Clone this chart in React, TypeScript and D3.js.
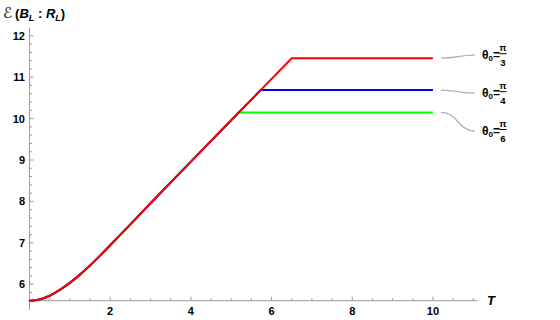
import React from 'react';
import * as d3 from 'd3';

// rising part of the curve
const riseT = [0, 0.25, 0.5, 0.75, 1, 1.25, 1.5, 1.75, 2, 2.5, 3, 4, 5, 6];
const riseE = [5.6, 5.63, 5.72, 5.86, 6.03, 6.23, 6.45, 6.69, 6.94, 7.445, 7.955, 8.96, 9.96, 10.96];

// one entry per theta0 curve
const denominators = ['3', '4', '6'];
const plateauStart = [6.5, 5.73, 5.19];
const plateauValue = [11.46, 10.69, 10.15];
const plateauEnd = 10;
const colors = ['#ff0000', '#0000ff', '#00ff00'];

const xTicks = [2, 4, 6, 8, 10];
const yTicks = [6, 7, 8, 9, 10, 11, 12];

const W = 560;
const H = 320;

const App = () => {
  const x = d3.scaleLinear().domain([0, 11.1]).range([29.5, 477.3]);
  const y = d3.scaleLinear().domain([5.6, 12.19]).range([300.7, 28]);

  const smooth = d3.line<[number, number]>()
    .x(d => x(d[0]))
    .y(d => y(d[1]))
    .curve(d3.curveMonotoneX);

  const seriesPath = (i: number) => {
    const curved: [number, number][] = [];
    const straight: [number, number][] = [];
    riseT.forEach((t, j) => {
      if (t <= 3) curved.push([t, riseE[j]]);
      else if (t < plateauStart[i]) straight.push([t, riseE[j]]);
    });
    straight.push([plateauStart[i], plateauValue[i]]);
    straight.push([plateauEnd, plateauValue[i]]);
    return (smooth(curved) || '') + straight.map(p => `L${x(p[0])},${y(p[1])}`).join('');
  };

  const xMinor = d3.range(0.5, 11.01, 0.5).filter(v => !xTicks.includes(v));
  const yMinor = d3.range(5.8, 12.19, 0.2).filter(v => Math.abs(v - Math.round(v)) > 0.01);

  const axisColor = '#9a9a9a';
  const font = 'Liberation Sans, Arial, sans-serif';

  // legend connector: from line end to label
  const labelY = [54.7, 92.7, 130.5];
  const x0 = x(plateauEnd) + 8;
  const x1 = 475;
  const connector = (ya: number, yb: number) => {
    const mx = (x0 + x1) / 2;
    return `M${x0},${ya} C${mx},${ya} ${mx},${yb} ${x1},${yb}`;
  };

  const drawOrder = [2, 1, 0];

  return (
    <svg width={W} height={H} style={{ position: 'absolute', left: 0, top: 0 }}>
      <rect width={W} height={H} fill="#fff" />
      {/* axes */}
      <line x1={x(0)} x2={x(0)} y1={28} y2={310} stroke={axisColor} strokeWidth={1} />
      <line x1={28} x2={x(11.1)} y1={y(5.6)} y2={y(5.6)} stroke={axisColor} strokeWidth={1} />
      {xTicks.map(v => (
        <g key={'xt' + v}>
          <line x1={x(v)} x2={x(v)} y1={y(5.6)} y2={y(5.6) - 4} stroke={axisColor} />
          <text x={x(v)} y={315} textAnchor="middle" fontFamily={font} fontWeight="bold" fontSize={11}>{v}</text>
        </g>
      ))}
      {xMinor.map(v => (
        <line key={'xm' + v} x1={x(v)} x2={x(v)} y1={y(5.6)} y2={y(5.6) - 2.5} stroke={axisColor} />
      ))}
      {yTicks.map(v => (
        <g key={'yt' + v}>
          <line x1={x(0)} x2={x(0) + 4} y1={y(v)} y2={y(v)} stroke={axisColor} />
          <text x={25} y={y(v) + 4} textAnchor="end" fontFamily={font} fontWeight="bold" fontSize={11}>{v}</text>
        </g>
      ))}
      {yMinor.map(v => (
        <line key={'ym' + v} x1={x(0)} x2={x(0) + 2.5} y1={y(v)} y2={y(v)} stroke={axisColor} />
      ))}
      {/* axis labels */}
      <text x={3} y={18} fontFamily={font} fontSize={13} fontStyle="italic" fontWeight="bold">
        <tspan fontFamily="DejaVu Sans" fontSize={15} fontStyle="normal" fontWeight="normal">ℰ</tspan>
        <tspan dx={3} fontStyle="normal">(</tspan>
        <tspan>B</tspan>
        <tspan fontSize={9} dy={3}>L</tspan>
        <tspan dy={-3} fontStyle="normal"> : </tspan>
        <tspan>R</tspan>
        <tspan fontSize={9} dy={3}>L</tspan>
        <tspan dy={-3} fontStyle="normal">)</tspan>
      </text>
      <text x={487} y={305} fontFamily={font} fontSize={13} fontStyle="italic" fontWeight="bold">T</text>
      {/* curves */}
      {drawOrder.map(i => (
        <path key={'s' + i} d={seriesPath(i)} fill="none" stroke={colors[i]}
          strokeWidth={2} strokeLinejoin="round" />
      ))}
      {/* labels */}
      {denominators.map((d, i) => {
        const ly = labelY[i];
        return (
          <g key={'lab' + i}>
            <path d={connector(y(plateauValue[i]), ly + 0.5)} fill="none" stroke="#b0b0b0" strokeWidth={1.3} />
            <text x={482} y={ly + 4} fontFamily={font} fontWeight="bold" fontSize={12}>
              θ<tspan fontSize={8} dy={2}>0</tspan><tspan dy={-2}>=</tspan>
            </text>
            <line x1={499.5} x2={506.5} y1={ly - 1} y2={ly - 1} stroke="#000" strokeWidth={1} />
            <text x={503} y={ly - 4} textAnchor="middle" fontFamily={font} fontWeight="bold" fontSize={9.5}>π</text>
            <text x={503} y={ly + 11} textAnchor="middle" fontFamily={font} fontWeight="bold" fontSize={9.5}>{d}</text>
          </g>
        );
      })}
    </svg>
  );
};

export default App;
